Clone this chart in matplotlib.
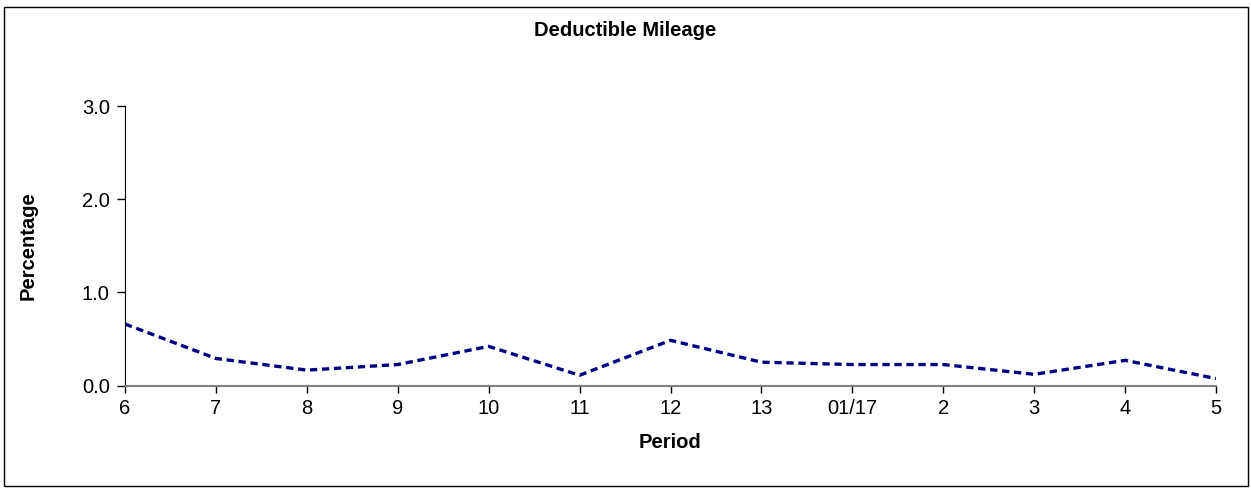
import matplotlib

matplotlib.use("Agg")
import matplotlib.pyplot as plt
from matplotlib.patches import Rectangle

# values
periods = ["6", "7", "8", "9", "10", "11", "12", "13", "01/17", "2", "3", "4", "5"]
percentage = [0.66, 0.29, 0.165, 0.225, 0.42, 0.11, 0.485, 0.25, 0.225, 0.225, 0.12, 0.27, 0.075]
y_ticks = [0.0, 1.0, 2.0, 3.0]

plt.rcParams["font.family"] = ["Liberation Sans", "DejaVu Sans"]
FS = 14.5

fig = plt.figure(figsize=(12.51, 4.88), dpi=100)
W, H = 1251, 488
ax_left, ax_right, ax_top, ax_bottom = 125, 1216, 106, 385.5
ax = fig.add_axes([ax_left / W, (H - ax_bottom) / H,
                   (ax_right - ax_left) / W, (ax_bottom - ax_top) / H])

x = list(range(len(periods)))
ax.plot(x, percentage, color="#000080", linewidth=2.4, linestyle=(0, (2.2, 1.4)))

ax.set_xlim(0, len(periods) - 1)
ax.set_ylim(0, 3.0)
ax.set_xticks(x)
ax.set_xticklabels(periods, fontsize=FS)
ax.set_yticks(y_ticks)
ax.set_yticklabels([f"{v:.1f}" for v in y_ticks], fontsize=FS)
ax.tick_params(axis="y", direction="out", length=6, width=1, color="black", pad=5)
ax.tick_params(axis="x", direction="out", length=5, width=1, color="black", pad=5)

for side in ("top", "right"):
    ax.spines[side].set_visible(False)
ax.spines["left"].set_color("black")
ax.spines["bottom"].set_color("#808080")
ax.spines["bottom"].set_linewidth(1.5)

ax.set_xlabel("Period", fontsize=FS, fontweight="bold")
ax.set_ylabel("Percentage", fontsize=FS, fontweight="bold")
ax.xaxis.set_label_coords(0.5, (ax_bottom - 443) / (ax_bottom - ax_top), transform=ax.transAxes)
ax.xaxis.label.set_va("center")
ax.yaxis.set_label_coords((28 - ax_left) / (ax_right - ax_left), 0.5, transform=ax.transAxes)
ax.yaxis.label.set_va("center")
fig.text(0.5, (H - 30) / H, "Deductible Mileage", ha="center", va="center",
         fontsize=FS, fontweight="bold")

# outer chart border
fig.patches.append(Rectangle((4 / W, 2 / H), (1248 - 4) / W, (481 - 2) / H,
                             transform=fig.transFigure, fill=False,
                             edgecolor="black", linewidth=1))

fig.savefig("out.png", dpi=100)
